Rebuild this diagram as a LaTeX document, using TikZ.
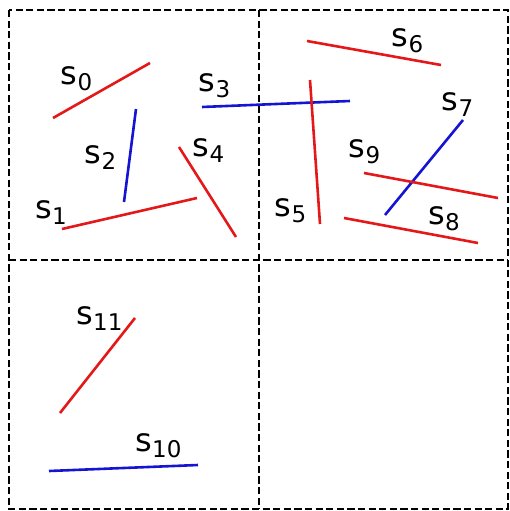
\documentclass[tikz,border=0pt]{standalone}
\usepackage{fontspec}
\setmainfont{DejaVu Sans}
\usepackage{xcolor}
\usepackage{tikz}
\definecolor{sred}{HTML}{E41818}
\definecolor{sblue}{HTML}{1414D2}
\newcommand{\segname}[1]{s\raisebox{-6pt}{\fontsize{23}{23}\selectfont #1}}
\tikzset{
  cell/.style={draw=black,line width=2.9pt,dash pattern=on 7.2pt off 3.4pt},
  redseg/.style={draw=sred,line width=2.6pt},
  blueseg/.style={draw=sblue,line width=2.6pt},
  seglabel/.style={inner sep=0pt,font=\fontsize{32}{32}\selectfont}
}

\begin{document}
\begin{tikzpicture}[x=1pt,y=-1pt]
  \useasboundingbox (0,0) rectangle (510,511);
  % quadtree cells
  \draw[cell] (9,10) rectangle (508,509);
  \draw[cell] (259,10) -- (259,509);
  \draw[cell] (9,260) -- (508,260);
  % segments
  \draw[redseg]  (53,118) -- (150,63);
  \draw[redseg]  (62,229) -- (197,198);
  \draw[blueseg] (136,109) -- (124,202);
  \draw[blueseg] (202,107) -- (350,101);
  \draw[redseg]  (179,147) -- (236,237);
  \draw[redseg]  (310,80) -- (320,224);
  \draw[redseg]  (307,41) -- (441,65);
  \draw[blueseg] (463,120) -- (385,215);
  \draw[redseg]  (344,218) -- (478,243);
  \draw[redseg]  (364,173) -- (498,198);
  \draw[blueseg] (49,471) -- (198,465);
  \draw[redseg]  (135,318) -- (60,413);
  % labels
  \node[seglabel] (l0)  at (76.5,78.5)  {\segname{0}};
  \node[seglabel] (l1)  at (51,213)     {\segname{1}};
  \node[seglabel] (l2)  at (100.5,158)  {\segname{2}};
  \node[seglabel] (l3)  at (214.5,86)   {\segname{3}};
  \node[seglabel] (l4)  at (208.5,151)  {\segname{4}};
  \node[seglabel] (l5)  at (290.5,210.5) {\segname{5}};
  \node[seglabel] (l6)  at (407.5,41)   {\segname{6}};
  \node[seglabel] (l7)  at (457.5,104.5) {\segname{7}};
  \node[seglabel] (l8)  at (444,218.5)  {\segname{8}};
  \node[seglabel] (l9)  at (364.5,151.5) {\segname{9}};
  \node[seglabel] (l10) at (158.5,446)  {\segname{10}};
  \node[seglabel] (l11) at (99.5,319)   {\segname{11}};
\end{tikzpicture}
\end{document}
